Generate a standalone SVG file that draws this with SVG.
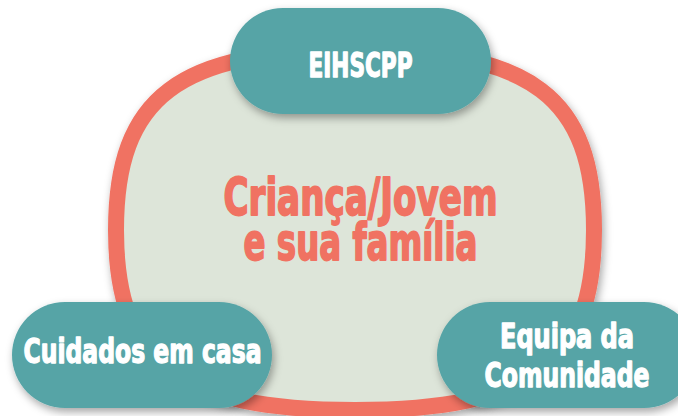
<svg xmlns="http://www.w3.org/2000/svg" width="678" height="416" viewBox="0 0 678 416">
  <defs>
    <filter id="shadow" x="-20%" y="-20%" width="140%" height="150%">
      <feDropShadow dx="2" dy="4" stdDeviation="4" flood-color="#000" flood-opacity="0.35"/>
    </filter>
    <style>
      .ring { fill: #dde5d9; stroke: #f07262; stroke-width: 16; }
      .pill { fill: #56a4a6; }
      .lbl { font-family: "DejaVu Sans Condensed", "Liberation Sans Narrow", "Liberation Sans", sans-serif; font-weight: bold; fill: #ffffff; stroke: #ffffff; stroke-width: 1.3; stroke-linejoin: round; font-size: 34px; text-anchor: middle; }
      .center { font-family: "DejaVu Sans Condensed", "Liberation Sans Narrow", "Liberation Sans", sans-serif; font-weight: bold; fill: #f07262; stroke: #f07262; stroke-width: 1.8; stroke-linejoin: round; font-size: 51px; text-anchor: middle; }
    </style>
  </defs>
  <rect width="678" height="416" fill="#ffffff"/>
  <g id="center-node">
    <path class="ring" filter="url(#shadow)" d="M 594,230 C 594,363.2 531.9,410 355,410 C 178.1,410 116,363.2 116,230 C 116,96.8 178.1,50 355,50 C 531.9,50 594,96.8 594,230 Z"/>
    <text class="center" x="360.5" y="215" textLength="274" lengthAdjust="spacingAndGlyphs">Criança/Jovem</text>
    <text class="center" x="360.5" y="260" textLength="234" lengthAdjust="spacingAndGlyphs">e sua família</text>
  </g>
  <g id="connectors"></g>
  <g id="node-eihscpp">
    <rect class="pill" filter="url(#shadow)" x="230" y="8" width="261" height="106" rx="53" ry="53"/>
    <text class="lbl" x="360.5" y="77" textLength="104" lengthAdjust="spacingAndGlyphs">EIHSCPP</text>
  </g>
  <g id="node-cuidados">
    <rect class="pill" filter="url(#shadow)" x="12" y="302" width="260" height="106" rx="53" ry="53"/>
    <text class="lbl" x="142.5" y="363" textLength="238" lengthAdjust="spacingAndGlyphs">Cuidados em casa</text>
  </g>
  <g id="node-equipa">
    <rect class="pill" filter="url(#shadow)" x="437" y="302" width="260" height="106" rx="53" ry="53"/>
    <text class="lbl" x="567" y="348" textLength="134" lengthAdjust="spacingAndGlyphs">Equipa da</text>
    <text class="lbl" x="567" y="387" textLength="165" lengthAdjust="spacingAndGlyphs">Comunidade</text>
  </g>
</svg>
